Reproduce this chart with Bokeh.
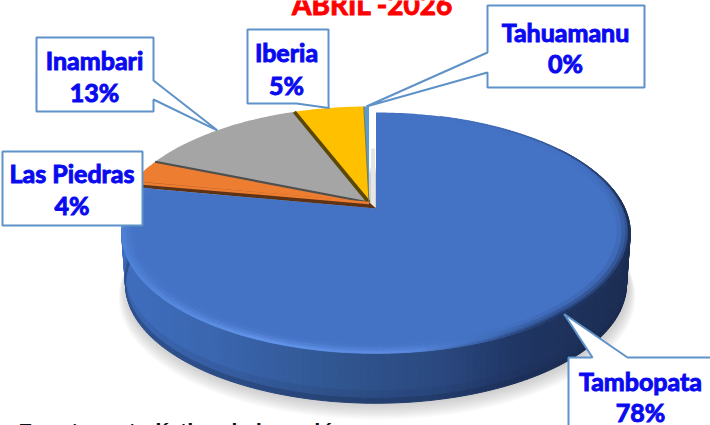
import numpy as np
from bokeh.plotting import figure
from bokeh.core.properties import value
from bokeh.embed import file_html
from bokeh.resources import INLINE
from bokeh.models import Range1d

# ---- data (clockwise from 12 o'clock) ----
categories = ["Tambopata", "Las Piedras", "Inambari", "Iberia", "Tahuamanu"]
shares = [78.0, 3.2, 13.0, 5.4, 0.4]
percent_labels = ["78%", "4%", "13%", "5%", "0%"]
slice_colors = ["#4472C4", "#ED7D31", "#A5A5A5", "#FFC000", "#5B9BD5"]
title_text = "ABRIL -2026"
footer_text = "Fuente: estadística de la región"

# ---- projection of the tilted disc ----
AX, AY = 375.5, 208.0
A, B, K = 249.0, 115.5, 0.203
DX, DY = -7.0, -6.0     # the small slices are pulled away from the large one


def rim(theta, r=1.0, off=(0.0, 0.0)):
    t = np.asarray(theta, dtype=float)
    u, v = r * np.sin(t), r * np.cos(t)
    w = 1 + K * v
    return AX + off[0] + A * u / w, AY + off[1] - B * v / w


def hex2rgb(c):
    return np.array([int(c[i:i + 2], 16) for i in (1, 3, 5)], dtype=float)


def mix(c1, c2, t):
    a, b = hex2rgb(c1), hex2rgb(c2)
    m = a + (b - a) * float(np.clip(t, 0, 1))
    return "#%02x%02x%02x" % tuple(int(round(x)) for x in m)


def ramp(x, stops):
    xs = [s[0] for s in stops]
    rgb = np.array([hex2rgb(s[1]) for s in stops])
    m = [np.interp(x, xs, rgb[:, i]) for i in range(3)]
    return "#%02x%02x%02x" % tuple(int(round(v)) for v in m)


p = figure(width=710, height=425, output_backend="svg", toolbar_location=None,
           x_range=Range1d(0, 710), y_range=Range1d(425, 0), min_border=0,
           outline_line_color=None, background_fill_color="white",
           border_fill_color="white")
p.axis.visible = False
p.grid.visible = False

frac = np.array(shares) / sum(shares)
edges = np.concatenate([[0], np.cumsum(frac)]) * 2 * np.pi
mids = (edges[:-1] + edges[1:]) / 2

DEPTH, SHRINK = 52.0, 0.985


def lower(x, y):
    return AX + (x - AX) * SHRINK, AY + (y - AY) * SHRINK + DEPTH


# soft shadow under the pie
ang = np.linspace(0, 2 * np.pi, 180)
rx, ry = rim(ang)
lx, ly = lower(rx, ry)
for i in range(9, 0, -1):
    s = 1 + 0.0035 * i
    p.patch(AX + (lx - AX) * s + 1.0, AY + (ly - AY) * s + 1.1 * i,
            fill_color="#8c8c8c", fill_alpha=0.05, line_color=None)

# side wall of the large slice
wall_stops = [(120, "#3F6EBE"), (220, "#3A65AE"), (340, "#30558F"),
              (440, "#2A4880"), (520, "#1F3563"), (640, "#1B2C50")]
th = np.linspace(np.radians(55), edges[1] + 0.04, 170)
xs, ys, cs = [], [], []
levels = [0, .25, .5, .75, .9, 1]
for a0, a1 in zip(th[:-1], th[1:]):
    x0, y0 = rim(a0)
    x1, y1 = rim(a1)
    lx0, ly0 = lower(x0, y0)
    lx1, ly1 = lower(x1, y1)
    base = ramp((x0 + x1) / 2, wall_stops)
    for t0, t1 in zip(levels[:-1], levels[1:]):
        xs.append([x0 + (lx0 - x0) * t0, x1 + (lx1 - x1) * t0,
                   x1 + (lx1 - x1) * t1, x0 + (lx0 - x0) * t1])
        ys.append([y0 + (ly0 - y0) * t0, y1 + (ly1 - y1) * t0,
                   y1 + (ly1 - y1) * t1, y0 + (ly0 - y0) * t1])
        cs.append(mix(base, "#16264a", 0.4 if t0 >= .9 else (0.12 if t0 >= .75 else 0)))
p.patches(xs, ys, fill_color=cs, line_color=cs, line_width=1)

# pulled-out slices
group = (DX, DY)
apex_x, apex_y = AX + DX, AY + DY
for i in (1, 2, 3, 4):
    a = np.linspace(edges[i], edges[i + 1], 40)
    x, y = rim(a, off=group)
    p.patch(np.r_[apex_x, x], np.r_[apex_y, y], fill_color=slice_colors[i], line_color=None)

# cut faces of the slices, seen as dark strips
cut_colors = {2: ("#4F4F4F", 2.2), 3: ("#5C4806", 3.6)}
for i, (c, lw) in cut_colors.items():
    x, y = rim(edges[i], off=group)
    p.line([apex_x, float(x)], [apex_y, float(y)], line_color=c, line_width=lw)
x, y = rim(edges[4], off=group)
p.line([apex_x, float(x)], [apex_y, float(y)], line_color="#7C7A3A", line_width=1.0)

# white gap and its faint shade
p.line([AX - 3, AX - 3], [AY - 60, AY], line_color="#E6E6E6", line_width=4)

# cut face under the orange slice: it closes the space to the large slice
x1, y1 = rim(edges[1])
gx, gy = rim(edges[1], off=group)
p.patch([float(gx), apex_x, AX, float(x1)], [float(gy), apex_y, AY, float(y1)],
        fill_color="#5E3215", line_color="#5E3215", line_width=0.5)
p.line([float(gx), apex_x], [float(gy) + 1, apex_y + 0.5], line_color=slice_colors[1], line_width=2.5)

# large slice with bevelled rim
a = np.linspace(edges[0], edges[1], 240)
x, y = rim(a)
p.patch(np.r_[AX, x], np.r_[AY, y], fill_color=slice_colors[0], line_color=None)

bevel_stops = [(120, "#4F82D6"), (260, "#6496EC"), (420, "#5A8AE0"),
               (490, "#3F69B4"), (560, "#1E3360"), (640, "#1B2C50")]
radii = [0.95, 0.968, 0.982, 0.992, 1.0]
xs, ys, cs = [], [], []
th = np.linspace(np.radians(18), edges[1], 220)
for a0, a1 in zip(th[:-1], th[1:]):
    mid = (a0 + a1) / 2
    deg = np.degrees(mid)
    strength = float(np.clip((deg - 18) / 70, 0, 1))
    reach = float(np.clip((deg - 60) / 60, 0.05, 1))
    fade = float(np.clip((deg - 130) / 45, 0, 1))
    for r0, r1 in zip(radii[:-1], radii[1:]):
        q0x, q0y = rim(a0, r0)
        q1x, q1y = rim(a1, r0)
        q2x, q2y = rim(a1, r1)
        q3x, q3y = rim(a0, r1)
        e = ramp(float(q0x), bevel_stops)
        t = (r1 - 0.95) / 0.05
        if r1 < 0.995:
            c = mix(slice_colors[0], e, strength * (t ** 2) * reach)
        else:
            c = mix(slice_colors[0], mix(e, ramp(float(q0x), wall_stops), 0.75 * (1 - fade)), strength)
        xs.append([q0x, q1x, q2x, q3x])
        ys.append([q0y, q1y, q2y, q3y])
        cs.append(c)
p.patches(xs, ys, fill_color=cs, line_color=cs, line_width=0.6)

# ---- callouts ----
BOX_LINE = "#5F92C8"
boxes = {
    "Tambopata": (568, 357, 760, 470),
    "Las Piedras": (2, 151, 142, 225),
    "Inambari": (36, 37, 153, 111),
    "Iberia": (247, 29, 328, 103),
    "Tahuamanu": (487, 5, 644, 87),
}
tails = {
    "Tambopata": ("top", 592, 627),
    "Inambari": ("right", 80, 99),
    "Iberia": ("bottom", 296, 328),
    "Tahuamanu": ("left", 52, 72),
}
text_rows = {
    "Tambopata": (640, 380, 411),
    "Las Piedras": (71.5, 172, 204),
    "Inambari": (94, 59, 91),
    "Iberia": (286, 51, 84),
    "Tahuamanu": (565, 31, 62),
}
for i, name in enumerate(categories):
    l, t, r, b = boxes[name]
    bx, by = [l, r, r, l], [t, t, b, b]
    if name in tails:
        off = (0.0, 0.0) if i == 0 else group
        tx, ty = rim(mids[i], off=off)
        tx, ty = float(tx), float(ty)
        side, s0, s1 = tails[name]
        if side == "top":
            bx, by = [l, s0, tx, s1, r, r, l], [t, t, ty, t, t, b, b]
        elif side == "right":
            bx, by = [l, r, r, tx, r, r, l], [t, t, s0, ty, s1, b, b]
        elif side == "bottom":
            bx, by = [l, r, r, tx, s0, l], [t, t, b, ty, b, b]
        else:
            bx, by = [l, r, r, l, l, tx, l], [t, t, b, b, s1, ty, s0]
    p.patch(bx, by, fill_color="white", line_color=BOX_LINE, line_width=2)
    cx, y0, y1 = text_rows[name]
    for yy, s in ((y0, name), (y1, percent_labels[i])):
        p.text([cx], [yy], text=[s], text_font=value("Lato"), text_font_style="bold",
               text_font_size="25px", text_color="#0A0AF0", text_align="center",
               text_baseline="middle", text_outline_color="#0A0AF0")

p.text([372], [3], text=[title_text], text_font=value("Lato"), text_font_style="bold",
       text_font_size="28px", text_color="#FF0000", text_align="center",
       text_baseline="alphabetic", text_outline_color="#FF0000")
p.text([18], [431], text=[footer_text], text_font=value("Liberation Sans"),
       text_font_style="bold", text_font_size="22px", text_color="#111111",
       text_align="left", text_baseline="alphabetic")

open("out.html", "w").write(file_html(p, INLINE))
